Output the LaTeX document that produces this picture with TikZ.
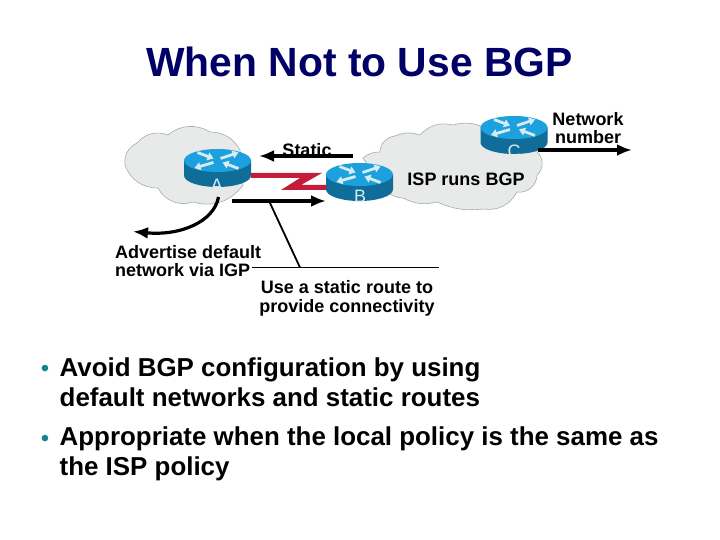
\documentclass[tikz,border=0pt]{standalone}
\usepackage{fontspec}
\setmainfont{Liberation Sans}
\usetikzlibrary{arrows.meta,shapes.geometric}
\definecolor{navytitle}{RGB}{0,0,102}
\definecolor{routertop}{RGB}{28,160,222}
\definecolor{routerside}{RGB}{16,108,152}
\definecolor{routerarrow}{RGB}{215,236,240}
\definecolor{cloudfill}{RGB}{232,234,234}
\definecolor{cloudline}{RGB}{165,172,172}
\definecolor{serialred}{RGB}{196,28,58}
\definecolor{bulletteal}{RGB}{20,130,150}
\tikzset{
 x=1pt,y=-1pt,
 lbl/.style={font=\bfseries\fontsize{18}{18.7}\selectfont,align=center,inner sep=0pt,text=black},
 bullettext/.style={font=\bfseries\fontsize{25.9}{30}\selectfont,anchor=west,inner sep=0pt,text=black},
 bulletmark/.style={font=\fontsize{24}{24}\selectfont,inner sep=0pt,text=bulletteal},
 rlabel/.style={font=\fontsize{18}{18}\selectfont,text=routerarrow,inner sep=0pt},
 cloudshape/.style={draw=cloudline,fill=cloudfill,line width=.6pt},
 fat/.style={line width=3.2pt,-{Latex[length=15pt,width=12pt]}},
 thin line/.style={line width=1.8pt},
 rbox/.style={minimum width=67pt,minimum height=37pt,inner sep=0pt,outer sep=0pt},
 rarrow/.style={line width=2.8pt,draw=routerarrow,-{Triangle[length=6pt,width=8pt]}},
}
\newcommand{\routerdraw}[2]{%
 \begin{scope}[shift={(#1,#2)}]
 \fill[routerside] (-33.5,0) -- (-33.5,15) arc[start angle=180,end angle=360,x radius=33.5,y radius=-11.5] -- (33.5,0) -- cycle;
 \fill[routertop] (0,0) ellipse[x radius=33.5,y radius=11.5];
 \draw[rarrow] (-20,-8) -- (-4,-2);
 \draw[rarrow] (3,-2) -- (21,-8);
 \draw[rarrow] (-4,2) -- (-23,7.5);
 \draw[rarrow] (21,8) -- (5,2);
 \end{scope}}
\begin{document}
\begin{tikzpicture}
\useasboundingbox (0,0) rectangle (720,540);
\fill[white] (0,0) rectangle (720,540);
% clouds
\draw[cloudshape] (125,165) to[bend left=35] (137,143) to[bend left=35] (168,135) to[bend left=35] (210,132) to[bend left=30] (240,150) -- (243,185) to[bend left=35] (193,202) to[bend left=40] (158,188) to[bend left=35] (125,165) -- cycle;
\draw[cloudshape] (363,158) to[bend left=20] (380,152) to[bend left=40] (395,136) to[bend left=20] (420,135) to[bend left=30] (453,125) to[bend left=20] (485,128) -- (537,152) to[bend left=50] (537,175) to[bend left=50] (517,192) to[bend left=35] (483,209) to[bend left=15] (437,202) to[bend left=20] (403,198) to[bend left=20] (385,190) -- cycle;
% routers
\routerdraw{217.5}{160.5}
\routerdraw{359.5}{174.5}
\routerdraw{514}{127.5}
\node[rbox] (A) at (217.5,168) {};
\node[rbox] (B) at (359.5,182) {};
\node[rbox] (C) at (514,135) {};
\node[rlabel] (la) at (217,185) {A};
\node[rlabel] (lb) at (360,196) {B};
\node[rlabel] (lc) at (514,151) {C};
% serial link
\fill[serialred] (A.east |- 0,173) -- (322,173) -- (301,185) -- (B.west |- 0,185) -- (B.west |- 0,190) -- (281,190) -- (300,178) -- (A.east |- 0,178) -- cycle;
% coordinates
\coordinate (s1) at (353,156); \coordinate (s2) at (259,156);
\coordinate (b1) at (232,201); \coordinate (b2) at (326,201);
\coordinate (n1) at (538,150); \coordinate (n2) at (632,150);
\coordinate (c1) at (218.5,197); \coordinate (c2) at (133,231.5);
\coordinate (t1) at (270,203); \coordinate (t2) at (300,267.5);
\coordinate (h1) at (252,267.5); \coordinate (h2) at (439,267.5);
\draw[fat] (s1) -- (s2);
\draw[fat] (b1) -- (b2);
\draw[fat] (n1) -- (n2);
\draw[fat] (c1) .. controls (214,222) and (180,236) .. (c2);
\draw[thin line] (t1) -- (t2);
\draw[thin line] (h1) -- (h2);
% text
\node[font=\bfseries\fontsize{40.8}{44}\selectfont,text=navytitle,inner sep=0pt] (title) at (359.5,62) {When Not to Use BGP};
\node[lbl] (static) at (307,150) {Static};
\node[lbl] (isp) at (466,179) {ISP runs BGP};
\node[lbl] (net) at (588,128) {Network\\number};
\node[lbl,align=left,anchor=west] (adv) at (115,261) {Advertise default\\network via IGP};
\node[lbl] (use) at (347,298) {Use a static route to\\provide connectivity};
\node[bulletmark] (b1t) at (45,371) {•};
\node[bullettext,align=left] (b1x) at (59.5,382) {Avoid BGP configuration by using\\default networks and static routes};
\node[bulletmark] (b2t) at (45,441) {•};
\node[bullettext,align=left] (b2x) at (59.5,454) {Appropriate when the local policy is the same as\\the ISP policy};
\end{tikzpicture}
\end{document}
